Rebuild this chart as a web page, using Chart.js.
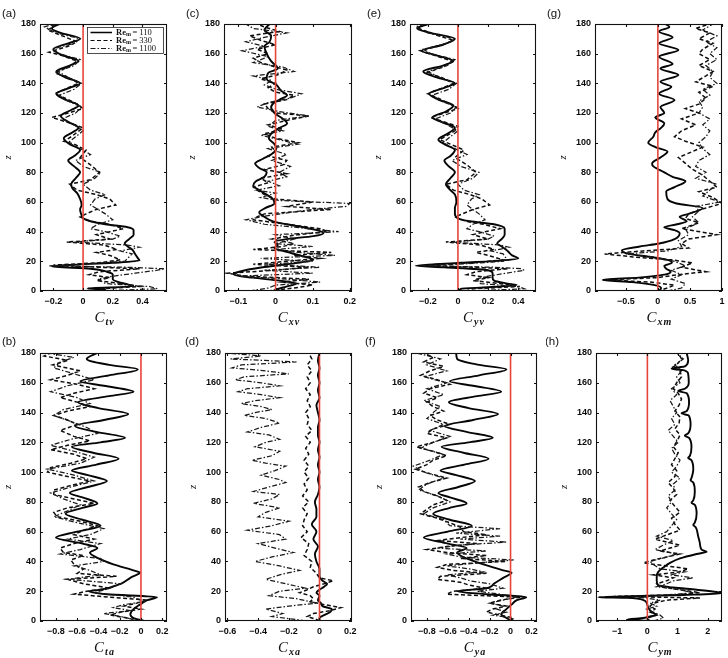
<!DOCTYPE html>
<html>
<head>
<meta charset="utf-8">
<script src="https://cdn.jsdelivr.net/npm/chart.js@4.4.1/dist/chart.umd.min.js"></script>
<style>
  body { margin: 0; background: #fff; width: 728px; height: 658px; position: relative; overflow: hidden; }
  canvas { position: absolute; }
</style>
</head>
<body>
<script>
// z axis ticks, shared by every panel
const zTicks = [0, 20, 40, 60, 80, 100, 120, 140, 160, 180];

// x tick labels per panel
const ticksTv = [-0.2, 0, 0.2, 0.4];
const ticksXv = [-0.1, 0, 0.1, 0.2];
const ticksYv = [-0.2, 0, 0.2, 0.4];
const ticksXm = [-0.5, 0, 0.5, 1];
const ticksTa = [-0.8, -0.6, -0.4, -0.2, 0, 0.2];
const ticksXa = [-0.6, -0.4, -0.2, 0, 0.2];
const ticksYa = [-0.8, -0.6, -0.4, -0.2, 0, 0.2];
const ticksYm = [-1, 0, 1, 2];

// series: [z, value] pairs, Re_m = 110 / 330 / 1100
const ctv110 = [[0,0.0],[1,0.15],[1.8,0.03],[3,0.33],[4.5,0.3],[6,0.24],[8,0.2],[11,0.2],[13,0.16],[15,0.05],[16.5,-0.21],[17.5,-0.1],[19,0.2],[20.5,0.38],[22,0.37],[25,0.35],[28,0.33],[30,0.3],[32,0.28],[35,0.31],[38,0.34],[41,0.34],[43,0.3],[45,0.15],[47,0.05],[49,0.0],[51,-0.01],[55,-0.02],[58,-0.01],[62,-0.02],[66,-0.04],[69,-0.07],[72,-0.08],[76,-0.05],[80,-0.02],[84,-0.06],[88,-0.1],[91,-0.06],[95,-0.02],[99,-0.09],[103,-0.13],[107,-0.07],[110,-0.03],[114,-0.1],[118,-0.15],[122,-0.08],[125,-0.03],[129,-0.12],[133,-0.18],[137,-0.09],[140,-0.02],[144,-0.12],[148,-0.18],[152,-0.09],[155,-0.03],[159,-0.14],[163,-0.2],[167,-0.1],[170,-0.02],[174,-0.15],[177,-0.21],[180,-0.16]];
const ctv330 = [[0,0.07],[1.5,0.12],[3,0.38],[5,0.27],[7,0.09],[9,0.18],[11,0.04],[13,0.11],[15,0.38],[16,0.11],[17.5,-0.2],[19,0.11],[21,0.25],[24,0.18],[26,0.09],[28,0.23],[31,0.14],[33,-0.11],[35,0.18],[38,0.09],[40,0.18],[42,0.27],[45,0.18],[47,0.05],[50,-0.02],[52,0.02],[55,0.09],[58,0.22],[62,0.18],[65,0.09],[68,-0.04],[72,-0.09],[75,0.05],[80,0.11],[85,0.05],[90,-0.02],[95,0.02],[99,-0.06],[101,-0.13],[104,-0.08],[107,-0.04],[110,0.0],[113,-0.08],[117,-0.21],[120,-0.1],[123,0.0],[126,-0.04],[130,-0.12],[133,-0.19],[137,-0.1],[140,-0.03],[144,-0.1],[147,-0.19],[151,-0.1],[155,-0.04],[159,-0.15],[161,-0.23],[165,-0.1],[168,-0.04],[172,-0.14],[176,-0.24],[178,-0.2],[180,-0.22]];
const ctv1100 = [[0,0.1],[1.5,0.5],[3,0.45],[5,0.15],[8,0.1],[10,0.2],[12,0.35],[14,0.5],[15,0.55],[16,0.3],[17,-0.23],[18,0.0],[20,0.28],[22,0.3],[25,0.33],[27,0.25],[29.5,0.38],[31,0.3],[33,-0.06],[35,0.2],[37,0.25],[40,0.15],[42,0.05],[45,0.1],[48,0.2],[52,0.15],[55,0.1],[58,0.05],[62,0.08],[65,0.15],[68,0.05],[72,0.0],[76,0.08],[80,0.12],[84,0.0],[88,-0.05],[92,0.05],[95,0.0],[100,-0.1],[104,-0.05],[108,0.0],[112,-0.06],[116,-0.14],[120,-0.05],[124,-0.01],[128,-0.1],[132,-0.16],[136,-0.06],[140,-0.01],[144,-0.1],[148,-0.17],[152,-0.06],[156,-0.02],[160,-0.16],[163,-0.21],[167,-0.06],[170,-0.02],[174,-0.18],[178,-0.26],[180,-0.2]];

const cxv110 = [[0,-0.007],[1,0.002],[3,0.029],[5,0.056],[7,0.011],[9,-0.062],[11,-0.112],[13,-0.098],[16,-0.035],[18,0.029],[21,0.102],[24,0.065],[27,0.02],[29,-0.003],[31,0.006],[33,-0.003],[35,0.029],[37,0.102],[39,0.129],[41,0.111],[43,0.075],[45,0.029],[47,-0.007],[50,-0.03],[53,-0.044],[56,-0.027],[59,-0.003],[62,-0.007],[65,-0.024],[68,-0.044],[71,-0.06],[74,-0.053],[77,-0.03],[80,-0.024],[83,-0.044],[86,-0.055],[89,-0.035],[92,-0.012],[96,0.002],[99,-0.003],[103,-0.018],[106,-0.012],[110,0.011],[113,0.031],[116,0.02],[120,-0.003],[124,-0.012],[127,-0.003],[129,0.011],[132,0.031],[135,0.015],[139,0.002],[143,-0.024],[147,-0.02],[150,0.006],[155,-0.012],[160,-0.024],[165,-0.03],[168,-0.016],[172,-0.012],[176,-0.03],[180,-0.016]];
const cxv330 = [[0,-0.02],[2,0.05],[4,0.1],[6,0.02],[8,0.09],[10,-0.08],[12,-0.13],[14,0.0],[16,0.09],[18,-0.06],[20,0.03],[22,0.12],[24,0.05],[26,0.15],[28,-0.06],[30,0.02],[32,0.05],[35,-0.01],[38,0.06],[40,0.14],[42,0.12],[45,0.03],[48,-0.06],[50,-0.05],[52,-0.03],[55,0.15],[57,0.03],[60,0.1],[62,0.0],[65,-0.03],[68,-0.05],[70,-0.06],[73,-0.02],[76,-0.04],[79,0.03],[82,-0.03],[85,0.02],[88,0.03],[91,-0.02],[94,0.0],[97,-0.01],[100,0.06],[103,0.0],[106,-0.03],[109,0.02],[112,-0.02],[115,0.03],[118,0.09],[120,0.0],[123,-0.02],[126,-0.03],[129,0.03],[132,0.05],[134,0.0],[137,-0.02],[140,0.0],[143,-0.04],[146,0.01],[149,0.03],[151,0.0],[154,-0.04],[157,-0.06],[160,-0.02],[163,-0.05],[166,0.0],[169,-0.04],[172,-0.07],[175,0.01],[178,-0.03],[180,-0.05]];
const cxv1100 = [[0,-0.07],[2,-0.02],[4,0.0],[6,0.12],[8,0.03],[10,-0.1],[12,0.1],[14,-0.03],[16,0.12],[18,-0.02],[20,0.1],[22,-0.04],[24,0.16],[26,0.06],[28,0.0],[30,0.1],[32,0.0],[35,0.05],[38,0.0],[40,0.17],[43,0.05],[45,-0.03],[48,-0.08],[50,-0.04],[53,0.04],[55,0.1],[57,0.19],[59,0.2],[61,0.01],[63,-0.04],[66,0.0],[68,-0.05],[71,0.01],[74,-0.02],[77,0.03],[80,0.01],[84,0.04],[88,-0.01],[92,0.03],[96,-0.02],[99,0.06],[102,0.01],[105,-0.04],[108,0.02],[111,-0.02],[115,0.0],[118,0.09],[121,0.01],[124,-0.05],[127,-0.02],[130,0.04],[133,0.07],[136,0.0],[139,-0.03],[142,-0.01],[145,-0.06],[148,0.05],[151,0.02],[154,-0.06],[158,-0.02],[162,-0.09],[165,-0.03],[168,-0.08],[171,-0.03],[174,0.03],[177,-0.06],[180,-0.08]];

const cyv110 = [[0,0.01],[1.5,0.02],[2.5,0.2],[4,0.39],[5,0.33],[7,0.24],[9,0.23],[12,0.23],[14,0.2],[16,-0.09],[17,-0.28],[18,-0.15],[19,0.02],[20.5,0.29],[22,0.4],[24,0.36],[27,0.33],[30,0.29],[32,0.26],[35,0.29],[38,0.31],[42,0.31],[45,0.24],[47,0.08],[49,0.0],[52,-0.02],[56,-0.02],[60,-0.01],[65,-0.02],[69,-0.06],[72,-0.08],[76,-0.05],[80,-0.02],[84,-0.06],[88,-0.09],[91,-0.05],[95,-0.02],[99,-0.09],[102,-0.13],[106,-0.07],[110,-0.02],[114,-0.11],[117,-0.17],[121,-0.08],[125,-0.03],[129,-0.13],[133,-0.19],[137,-0.09],[140,-0.02],[144,-0.14],[148,-0.23],[152,-0.1],[155,-0.03],[159,-0.15],[162,-0.24],[166,-0.1],[170,-0.02],[174,-0.18],[177,-0.27],[180,-0.2]];
const cyv330 = [[0,0.05],[1.5,0.1],[3,0.41],[5,0.28],[7,0.1],[9,0.2],[11,0.06],[13,0.12],[15,0.33],[16,0.1],[17.5,-0.22],[19,0.1],[21,0.3],[24,0.2],[26,0.12],[28,0.24],[31,0.15],[33,-0.08],[35,0.2],[38,0.1],[40,0.18],[42,0.28],[45,0.17],[47,0.05],[50,-0.02],[52,0.03],[55,0.1],[58,0.21],[62,0.16],[65,0.08],[68,-0.03],[72,-0.08],[75,0.06],[80,0.12],[85,0.06],[90,-0.02],[95,0.04],[99,-0.05],[102,-0.12],[105,-0.07],[108,-0.02],[111,0.0],[114,-0.09],[117,-0.18],[120,-0.09],[123,0.0],[126,-0.05],[130,-0.13],[133,-0.2],[137,-0.1],[140,-0.03],[144,-0.11],[147,-0.21],[151,-0.1],[155,-0.04],[159,-0.16],[162,-0.25],[166,-0.1],[169,-0.03],[173,-0.16],[177,-0.26],[180,-0.22]];
const cyv1100 = [[0,0.08],[1.5,0.44],[3,0.4],[5,0.15],[8,0.12],[10,0.2],[12,0.32],[14,0.44],[15,0.42],[16,0.25],[17,-0.24],[18,0.0],[20,0.3],[22,0.32],[25,0.3],[27,0.22],[29.5,0.34],[31,0.28],[33,-0.04],[35,0.2],[37,0.24],[40,0.14],[42,0.06],[45,0.1],[48,0.18],[52,0.14],[55,0.1],[58,0.06],[62,0.09],[65,0.14],[68,0.04],[72,0.0],[76,0.1],[80,0.14],[84,0.02],[88,-0.04],[92,0.06],[95,0.0],[100,-0.1],[104,-0.05],[108,0.0],[112,-0.07],[116,-0.15],[120,-0.05],[124,-0.01],[128,-0.11],[132,-0.17],[136,-0.06],[140,-0.01],[144,-0.12],[148,-0.2],[152,-0.07],[156,-0.02],[160,-0.18],[163,-0.23],[167,-0.07],[170,-0.02],[174,-0.2],[178,-0.28],[180,-0.22]];

const cxm110 = [[0,0.02],[2,0.05],[4,-0.05],[6,-0.4],[7.5,-0.86],[9,-0.3],[11,0.1],[13,0.2],[15,0.13],[17,0.1],[19,0.22],[21,0.15],[23,-0.12],[25,-0.45],[27.5,-0.56],[30,-0.28],[32,0.02],[35,0.26],[39,0.34],[41,0.26],[43,0.1],[45,0.3],[47,0.45],[50,0.34],[52,0.48],[56,0.7],[59,0.29],[62,0.15],[67,0.13],[70,0.26],[74,0.43],[77,0.23],[80,0.1],[84,-0.07],[86,-0.09],[90,0.04],[94,0.15],[97,-0.04],[100,-0.15],[104,-0.07],[107,-0.04],[110,0.05],[113,0.1],[117,-0.04],[120,0.1],[124,0.04],[128.7,0.26],[133,0.02],[137.7,0.21],[141,0.04],[145.6,0.32],[150,0.04],[153,0.23],[158,0.02],[162.5,0.32],[167,0.02],[171,0.23],[175,0.02],[178,0.18],[180,0.12]];
const cxm330 = [[0,-0.01],[2,0.15],[4,0.26],[6,-0.12],[7.5,-0.83],[9,-0.01],[11,0.32],[13,0.75],[16,0.37],[19,0.54],[21,0.21],[23,-0.39],[25,-0.83],[27,-0.23],[29,0.48],[32,0.37],[35,0.48],[38,0.92],[42,0.37],[46,0.64],[49,0.43],[52,0.48],[56,0.75],[59,1.0],[63,0.86],[67,0.64],[70,0.92],[74,0.81],[78,0.7],[82,0.54],[86,0.43],[90,0.32],[94,0.54],[97,0.7],[101,0.43],[104,0.26],[108,0.37],[112,0.59],[116,0.37],[120,0.64],[123,0.43],[126,0.64],[130,0.75],[134,0.64],[138,0.86],[141,0.59],[145,0.75],[148,0.86],[152,0.64],[156,0.81],[160,0.64],[163,0.7],[167,0.86],[170,0.64],[174,0.81],[177,0.59],[180,0.81]];
const cxm1100 = [[0,0.15],[2,0.37],[5,0.43],[8,0.21],[11,0.37],[14,0.21],[17,0.43],[20,0.26],[23,-0.07],[25,-0.5],[27,0.15],[30,0.37],[34,0.32],[38,0.48],[42,0.43],[46,0.64],[50,0.54],[54,0.64],[57,0.59],[60,0.97],[64,0.7],[68,0.81],[72,0.92],[76,0.59],[80,0.75],[84,0.59],[88,0.64],[92,0.81],[96,0.7],[100,0.64],[104,0.75],[108,0.81],[112,0.7],[116,0.81],[120,0.64],[124,0.7],[128,0.64],[132,0.81],[136,0.7],[140,0.92],[144,0.81],[148,0.86],[152,0.75],[156,0.92],[160,0.81],[164,0.92],[168,0.75],[172,0.92],[176,0.7],[180,0.86]];

const cta110 = [[0,0.03],[2,-0.07],[4.5,-0.1],[8,-0.07],[11,-0.01],[14,0.06],[16,0.15],[18,-0.32],[20,-0.49],[21,-0.38],[25,-0.19],[29,-0.1],[32.5,-0.01],[34,-0.07],[38,-0.26],[42,-0.4],[46,-0.48],[49,-0.41],[52,-0.55],[56,-0.8],[60,-0.6],[64,-0.38],[68,-0.55],[72,-0.71],[76,-0.55],[79,-0.41],[83,-0.55],[86,-0.67],[90,-0.5],[94,-0.32],[98,-0.5],[101,-0.65],[105,-0.42],[109,-0.21],[113,-0.45],[117,-0.65],[120,-0.38],[123,-0.15],[127,-0.42],[131,-0.62],[135,-0.35],[139,-0.12],[143,-0.4],[147,-0.59],[151,-0.3],[154,-0.07],[158,-0.35],[161,-0.57],[165,-0.3],[169,-0.03],[172,-0.3],[176,-0.51],[180,-0.41]];
const cta330 = [[0,-0.01],[2,-0.13],[4,-0.29],[6,-0.19],[8,0.0],[10,-0.16],[12,-0.04],[14,0.06],[16,-0.29],[18,-0.63],[20,-0.51],[22,-0.29],[25,-0.54],[28,-0.69],[30,-0.23],[32,-0.6],[35,-0.54],[38,-0.63],[41,-0.66],[44,-0.54],[46,-0.73],[49,-0.76],[52,-0.63],[55,-0.44],[58,-0.63],[61,-0.54],[64,-0.41],[67,-0.57],[70,-0.79],[73,-0.82],[76,-0.69],[79,-0.44],[82,-0.63],[85,-0.82],[88,-0.82],[91,-0.66],[94,-0.48],[97,-0.69],[100,-0.88],[103,-0.85],[106,-0.66],[109,-0.51],[112,-0.63],[115,-0.85],[118,-0.69],[121,-0.48],[124,-0.63],[128,-0.76],[132,-0.6],[135,-0.69],[138,-0.82],[141,-0.69],[144,-0.48],[147,-0.6],[150,-0.76],[153,-0.63],[156,-0.44],[159,-0.6],[162,-0.85],[165,-0.69],[168,-0.57],[172,-0.83],[175,-0.69],[178,-0.91],[180,-0.85]];
const cta1100 = [[0,-0.01],[1,-0.07],[3,-0.19],[5,-0.35],[7,-0.1],[9,-0.26],[11,-0.16],[13,0.03],[16,-0.07],[19,-0.44],[22,-0.29],[25,-0.19],[28,-0.69],[31,-0.38],[34,-0.48],[37,-0.63],[40,-0.35],[42,-0.38],[45,-0.76],[48,-0.57],[52,-0.38],[55,-0.69],[58,-0.48],[62,-0.35],[66,-0.6],[70,-0.82],[74,-0.69],[78,-0.57],[82,-0.73],[86,-0.85],[90,-0.66],[94,-0.44],[98,-0.63],[102,-0.88],[106,-0.57],[110,-0.44],[114,-0.63],[118,-0.85],[122,-0.66],[126,-0.41],[130,-0.51],[134,-0.66],[138,-0.82],[142,-0.73],[146,-0.48],[150,-0.6],[154,-0.85],[158,-0.69],[162,-0.44],[166,-0.63],[170,-0.82],[174,-0.76],[177,-0.63],[180,-0.88]];

const cxa110 = [[0,0.0],[2,0.0],[4,0.03],[6,0.07],[8,0.08],[10,0.02],[12,0.01],[14,-0.01],[17,0.0],[19,-0.02],[21,0.0],[23,0.03],[25,0.05],[27,0.02],[30,0.0],[35,0.0],[40,-0.02],[45,-0.03],[50,-0.01],[55,-0.04],[60,-0.02],[65,-0.05],[70,-0.02],[75,-0.02],[80,-0.03],[85,-0.01],[90,0.0],[95,-0.01],[100,0.0],[105,-0.01],[110,0.0],[115,-0.01],[120,0.0],[125,-0.01],[130,-0.01],[135,0.0],[140,-0.01],[145,-0.02],[150,0.0],[155,-0.01],[160,0.0],[165,-0.01],[170,0.0],[175,-0.01],[180,0.0]];
const cxa330 = [[0,0.0],[1,-0.02],[3,-0.08],[5,-0.04],[7,0.07],[9,0.14],[11,0.03],[13,-0.06],[15,-0.04],[17,-0.06],[19,-0.13],[21,-0.08],[23,-0.04],[25,0.03],[27,0.09],[29,0.0],[32,-0.02],[36,-0.06],[40,-0.05],[44,-0.1],[48,-0.08],[52,-0.07],[56,-0.12],[60,-0.08],[64,-0.11],[68,-0.1],[72,-0.08],[76,-0.11],[80,-0.07],[84,-0.11],[88,-0.08],[92,-0.1],[96,-0.07],[100,-0.1],[104,-0.07],[108,-0.1],[112,-0.07],[116,-0.09],[120,-0.06],[124,-0.09],[128,-0.05],[132,-0.08],[136,-0.07],[140,-0.09],[144,-0.06],[148,-0.08],[152,-0.06],[156,-0.09],[160,-0.06],[164,-0.08],[168,-0.05],[172,-0.08],[176,-0.05],[180,-0.07]];
const cxa1100 = [[0,-0.09],[1,-0.15],[3,-0.31],[5,-0.24],[8,-0.35],[10,-0.2],[12,-0.02],[15,-0.15],[17,-0.33],[20,-0.26],[22,-0.09],[25,-0.22],[28,-0.35],[31,-0.26],[34,-0.13],[37,-0.26],[40,-0.42],[43,-0.31],[46,-0.17],[49,-0.29],[52,-0.4],[55,-0.22],[58,-0.26],[61,-0.47],[64,-0.31],[67,-0.2],[70,-0.4],[73,-0.35],[76,-0.26],[79,-0.43],[82,-0.31],[85,-0.26],[87,-0.43],[90,-0.33],[93,-0.22],[95,-0.26],[98,-0.38],[101,-0.29],[104,-0.22],[106,-0.35],[108,-0.44],[111,-0.31],[114,-0.26],[117,-0.42],[120,-0.35],[122,-0.26],[125,-0.33],[127,-0.47],[130,-0.38],[133,-0.26],[136,-0.35],[138,-0.49],[140,-0.42],[142,-0.31],[144,-0.38],[146,-0.51],[148,-0.42],[150,-0.26],[152,-0.38],[154,-0.53],[156,-0.47],[158,-0.26],[160,-0.38],[162,-0.55],[164,-0.49],[166,-0.2],[168,-0.35],[170,-0.57],[172,-0.51],[174,-0.15],[176,-0.58],[178,-0.38],[180,-0.6]];

const cya110 = [[0,0.01],[2,-0.04],[4.5,-0.09],[8,-0.04],[11,0.01],[14,0.06],[16,0.15],[18,-0.23],[20,-0.51],[22,-0.23],[25,-0.16],[29,-0.07],[32.5,0.01],[34,-0.07],[38,-0.26],[42,-0.42],[46,-0.51],[49,-0.42],[52,-0.6],[56,-0.83],[60,-0.6],[64,-0.37],[68,-0.58],[72,-0.74],[76,-0.58],[79,-0.42],[83,-0.58],[86,-0.69],[90,-0.5],[94,-0.34],[98,-0.52],[101,-0.67],[105,-0.44],[109,-0.21],[113,-0.45],[117,-0.66],[120,-0.4],[123,-0.17],[127,-0.42],[131,-0.63],[135,-0.36],[139,-0.12],[143,-0.4],[147,-0.59],[151,-0.32],[154,-0.09],[158,-0.36],[161,-0.58],[165,-0.3],[169,-0.04],[172,-0.3],[176,-0.51],[180,-0.52]];
const cya330 = [[0,0.0],[2,0.03],[4,-0.1],[6,-0.23],[8,-0.17],[10,-0.04],[12,-0.2],[14,-0.1],[16,0.09],[18,-0.61],[20,-0.55],[22,-0.23],[24,-0.39],[26,-0.48],[28,-0.7],[30,-0.67],[32,-0.23],[34,-0.55],[36,-0.7],[38,-0.61],[40,-0.04],[42,-0.48],[44,-0.23],[46,-0.61],[48,-0.8],[50,-0.61],[52,-0.32],[54,-0.7],[56,-0.48],[58,-0.23],[60,-0.45],[63,-0.48],[66,-0.58],[69,-0.7],[72,-0.86],[75,-0.8],[78,-0.74],[81,-0.61],[84,-0.7],[87,-0.83],[90,-0.88],[93,-0.77],[96,-0.61],[99,-0.77],[102,-0.91],[105,-0.8],[108,-0.74],[111,-0.61],[114,-0.74],[117,-0.9],[120,-0.74],[123,-0.61],[126,-0.8],[129,-0.74],[132,-0.58],[135,-0.7],[138,-0.77],[141,-0.64],[144,-0.74],[147,-0.8],[150,-0.7],[153,-0.83],[156,-0.77],[159,-0.58],[162,-0.7],[165,-0.86],[168,-0.77],[171,-0.64],[174,-0.83],[177,-0.74],[180,-0.83]];
const cya1100 = [[0,0.03],[2,0.0],[4,-0.17],[6,-0.04],[8,-0.13],[10,-0.07],[12,-0.2],[14,-0.07],[16,0.06],[18,-0.1],[20,-0.32],[22,-0.07],[25,-0.2],[27,-0.39],[29,-0.48],[31,-0.61],[33,-0.26],[35,-0.39],[37,-0.61],[39,-0.32],[41,0.03],[43,-0.48],[45,-0.61],[47,-0.23],[49,-0.7],[51,-0.48],[53,-0.04],[55,-0.48],[57,-0.1],[59,-0.52],[62,-0.1],[64,-0.58],[68,-0.64],[72,-0.83],[76,-0.74],[80,-0.58],[84,-0.7],[88,-0.88],[92,-0.8],[96,-0.64],[100,-0.83],[104,-0.93],[108,-0.77],[112,-0.64],[116,-0.86],[120,-0.74],[124,-0.58],[128,-0.77],[132,-0.64],[136,-0.8],[140,-0.74],[144,-0.67],[148,-0.83],[152,-0.64],[156,-0.8],[160,-0.61],[164,-0.83],[168,-0.61],[172,-0.8],[176,-0.67],[180,-0.9]];

const cym110 = [[0,0.09],[1,-0.68],[2,-0.13],[3,0.09],[4,0.31],[6,0.14],[9,0.03],[12,-0.02],[14,-0.13],[15.5,-0.68],[16,-1.62],[16.5,-0.79],[17.5,1.19],[18.5,2.45],[19.5,2.29],[21,1.63],[22.5,0.86],[24,0.36],[27,0.31],[30,0.31],[33,0.36],[36,0.53],[39,0.75],[42,1.08],[45,1.63],[46.5,1.96],[48,1.79],[52,1.74],[57,1.68],[63,1.6],[64.5,1.52],[66,1.57],[72,1.63],[78,1.57],[79.5,1.46],[81,1.52],[87,1.57],[93,1.52],[94.5,1.43],[96,1.46],[102,1.52],[108,1.46],[109.5,1.35],[111,1.41],[117,1.46],[123,1.38],[124.5,1.24],[126,1.35],[132,1.43],[138,1.37],[139.5,1.13],[141,1.3],[147,1.38],[153,1.3],[154.5,1.02],[156,1.24],[160,1.37],[166,1.35],[168.5,1.19],[169.5,0.8],[171,1.24],[175,1.35],[180,1.3]];
const cym330 = [[0,0.09],[2,-0.02],[4,0.31],[6,0.09],[8,0.25],[10,0.09],[12,0.2],[14,0.64],[15.5,1.74],[16.5,-1.12],[17.5,0.86],[19,1.74],[21,1.08],[23,0.42],[25,0.31],[27,0.64],[29,0.86],[31,0.2],[33,1.08],[35,1.35],[37,0.64],[39,-0.13],[41,0.2],[43,0.64],[45,1.08],[47,0.42],[49,0.75],[51,1.08],[53,0.64],[55,0.25],[57,0.53],[61,1.08],[65,0.91],[69,0.8],[73,1.08],[77,0.91],[81,0.75],[85,0.97],[89,0.86],[93,0.69],[97,0.91],[101,0.97],[105,0.8],[109,0.91],[113,1.02],[117,0.86],[121,0.99],[125,1.08],[129,0.91],[133,1.05],[137,1.08],[141,0.91],[145,1.05],[149,1.13],[153,1.02],[156,0.86],[160,0.97],[164,1.13],[168,1.08],[170,0.8],[172,0.97],[176,1.13],[180,1.02]];
const cym1100 = [[0,0.2],[2,0.53],[4,0.42],[6,0.2],[8,-0.02],[10,0.31],[12,0.09],[14,0.42],[16,-0.24],[17.5,0.64],[19,1.52],[21,1.08],[23,0.31],[25,0.64],[27,0.86],[29,1.52],[31,0.75],[33,1.24],[35,0.42],[38,0.2],[40,0.09],[43,0.64],[45,0.97],[48,0.25],[51,0.53],[54,0.86],[57,0.31],[60,0.64],[64,0.8],[68,0.97],[72,0.8],[76,0.64],[80,0.8],[84,0.69],[88,0.91],[92,0.86],[96,1.08],[100,0.8],[104,0.97],[108,1.08],[112,0.91],[116,0.8],[120,1.02],[124,0.86],[128,0.69],[132,0.91],[136,0.8],[140,0.97],[144,0.86],[148,0.75],[152,0.97],[156,0.8],[160,1.08],[164,0.97],[168,1.13],[172,0.91],[176,1.19],[180,0.97]];

const legendLabels = ['110', '330', '1100'];

// panel layout: plot box in page pixels [left, top, right, bottom], tag position
const panels = [
  { tag: '(a)', sub: 'tv', min: -0.29, max: 0.565, ticks: ticksTv, series: [ctv110, ctv330, ctv1100], box: [40, 24, 167, 291], tagAt: [2, 14], legend: true },
  { tag: '(c)', sub: 'xv', min: -0.139, max: 0.206, ticks: ticksXv, series: [cxv110, cxv330, cxv1100], box: [224, 24, 352, 291], tagAt: [186, 14] },
  { tag: '(e)', sub: 'yv', min: -0.318, max: 0.518, ticks: ticksYv, series: [cyv110, cyv330, cyv1100], box: [410, 24, 536, 291], tagAt: [367, 14] },
  { tag: '(g)', sub: 'xm', min: -0.98, max: 1.0, ticks: ticksXm, series: [cxm110, cxm330, cxm1100], box: [595, 24, 722, 291], tagAt: [547, 14] },
  { tag: '(b)', sub: 'ta', min: -0.95, max: 0.245, ticks: ticksTa, series: [cta110, cta330, cta1100], box: [40, 353, 167, 621], tagAt: [2, 342] },
  { tag: '(d)', sub: 'xa', min: -0.616, max: 0.212, ticks: ticksXa, series: [cxa110, cxa330, cxa1100], box: [225, 353, 352, 621], tagAt: [185, 342] },
  { tag: '(f)', sub: 'ya', min: -0.952, max: 0.253, ticks: ticksYa, series: [cya110, cya330, cya1100], box: [411, 353, 537, 621], tagAt: [365, 342] },
  { tag: '(h)', sub: 'ym', min: -1.7, max: 2.47, ticks: ticksYm, series: [cym110, cym330, cym1100], box: [596, 353, 722, 621], tagAt: [545, 342] },
];

const lineStyles = [
  { color: '#050505', width: 1.9, dash: [] },
  { color: '#0d0d0d', width: 1.5, dash: [4, 2.5] },
  { color: '#1a1a1a', width: 1.25, dash: [5, 2, 1.5, 2] },
];

const tickFont = { family: '"Liberation Sans", Arial, sans-serif', size: 9, weight: 'bold' };
const serif = '"Liberation Serif", "DejaVu Serif", serif';
const fmt = v => (v < 0 ? '\u2212' + String(-v) : String(v));
const AXW = 50; // room left of each plot box for z labels and tag

// box, inward ticks, titles, tag and legend
const decor = {
  id: 'decor',
  afterDatasetsDraw(chart, args, opts) {
    const { ctx, chartArea: a, scales: { x, y } } = chart;
    const p = opts.panel;
    ctx.save();
    ctx.strokeStyle = '#111';
    ctx.lineWidth = 1.1;
    ctx.strokeRect(a.left + 0.5, a.top + 0.5, a.width - 1, a.height - 1);
    ctx.beginPath();
    p.ticks.forEach(v => {
      const px = Math.round(x.getPixelForValue(v)) + 0.5;
      ctx.moveTo(px, a.bottom); ctx.lineTo(px, a.bottom - 3);
      ctx.moveTo(px, a.top); ctx.lineTo(px, a.top + 3);
    });
    zTicks.forEach(v => {
      const py = Math.round(y.getPixelForValue(v)) + 0.5;
      ctx.moveTo(a.left, py); ctx.lineTo(a.left + 3, py);
      ctx.moveTo(a.right, py); ctx.lineTo(a.right - 3, py);
    });
    ctx.stroke();

    // x title C with subscript
    ctx.fillStyle = '#111';
    ctx.textAlign = 'left';
    ctx.textBaseline = 'alphabetic';
    ctx.font = 'italic 15px ' + serif;
    const wC = ctx.measureText('C').width;
    ctx.font = 'italic bold 10px ' + serif;
    ctx.letterSpacing = '1px';
    const wS = ctx.measureText(p.sub).width;
    const sx = (a.left + a.right) / 2 + 1 - (wC + 1 + wS) / 2;
    const base = a.bottom + 31;
    ctx.fillText(p.sub, sx + wC + 1, base + 3);
    ctx.letterSpacing = '0px';
    ctx.font = 'italic 15px ' + serif;
    ctx.fillText('C', sx, base);

    // y title
    ctx.save();
    ctx.translate(a.left - 32, (a.top + a.bottom) / 2);
    ctx.rotate(-Math.PI / 2);
    ctx.font = 'italic 10.5px ' + serif;
    ctx.textAlign = 'center';
    ctx.textBaseline = 'middle';
    ctx.fillText('z', 0, 0);
    ctx.restore();

    // panel tag
    ctx.font = '11.5px "Liberation Sans", Arial, sans-serif';
    ctx.textAlign = 'left';
    ctx.textBaseline = 'middle';
    ctx.fillText(p.tag, p.tagAt[0] - opts.cl, p.tagAt[1] - opts.ct);

    if (p.legend) {
      const lx = a.right - 80, ly = a.top + 3, lw = 76, lh = 26;
      ctx.fillStyle = '#fff';
      ctx.fillRect(lx, ly, lw, lh);
      ctx.strokeStyle = '#222';
      ctx.lineWidth = 0.8;
      ctx.strokeRect(lx + 0.5, ly + 0.5, lw, lh);
      lineStyles.forEach((s, i) => {
        const ry = ly + 5.5 + i * 8;
        ctx.strokeStyle = s.color;
        ctx.lineWidth = s.width * 0.8;
        ctx.setLineDash(s.dash);
        ctx.beginPath();
        ctx.moveTo(lx + 3.5, ry); ctx.lineTo(lx + 25, ry);
        ctx.stroke();
        ctx.setLineDash([]);
        ctx.fillStyle = '#111';
        ctx.textBaseline = 'middle';
        let tx = lx + 29;
        ctx.font = 'bold 8.5px ' + serif;
        ctx.fillText('Re', tx, ry);
        tx += ctx.measureText('Re').width;
        ctx.font = 'bold 6px ' + serif;
        ctx.fillText('m', tx, ry + 2);
        tx += ctx.measureText('m').width + 1.5;
        ctx.font = '8.5px ' + serif;
        ctx.fillText('= ' + legendLabels[i], tx, ry);
      });
    }
    ctx.restore();
  }
};

const toPts = s => s.map(([z, v]) => ({ x: v, y: z }));

panels.forEach(p => {
  const [L, T, R, B] = p.box;
  const cl = L - AXW, ct = T - 24;
  const W = R - L + AXW + 12, H = B - T + 64;
  const cv = document.createElement('canvas');
  cv.width = W;
  cv.height = H;
  cv.style.left = cl + 'px';
  cv.style.top = ct + 'px';
  cv.style.width = W + 'px';
  cv.style.height = H + 'px';
  document.body.appendChild(cv);

  new Chart(cv, {
    type: 'line',
    data: {
      datasets: [
        { data: [{ x: 0, y: 0 }, { x: 0, y: 180 }], borderColor: '#e6453a', borderWidth: 1.6 },
        { data: toPts(p.series[2]), borderColor: lineStyles[2].color, borderWidth: lineStyles[2].width, borderDash: lineStyles[2].dash },
        { data: toPts(p.series[1]), borderColor: lineStyles[1].color, borderWidth: lineStyles[1].width, borderDash: lineStyles[1].dash },
        { data: toPts(p.series[0]), borderColor: lineStyles[0].color, borderWidth: lineStyles[0].width, cubicInterpolationMode: 'monotone' },
      ]
    },
    options: {
      responsive: false,
      animation: false,
      devicePixelRatio: 1,
      indexAxis: 'y',
      elements: { point: { radius: 0 }, line: { tension: 0 } },
      layout: { padding: { left: 0, top: 24, right: 12, bottom: 0 } },
      plugins: {
        legend: { display: false },
        tooltip: { enabled: false },
        decor: { panel: p, cl, ct }
      },
      scales: {
        x: {
          type: 'linear', position: 'bottom', min: p.min, max: p.max,
          grid: { display: false, drawTicks: false }, border: { display: false },
          afterBuildTicks: s => { s.ticks = p.ticks.map(v => ({ value: v })); },
          afterFit: s => { s.height = 40; },
          ticks: { autoSkip: false, maxRotation: 0, padding: 5, color: '#0a0a0a', font: tickFont, callback: v => fmt(v) }
        },
        y: {
          type: 'linear', position: 'left', min: 0, max: 180,
          grid: { display: false, drawTicks: false }, border: { display: false },
          afterBuildTicks: s => { s.ticks = zTicks.map(v => ({ value: v })); },
          afterFit: s => { s.width = AXW; },
          ticks: { autoSkip: false, padding: 4, color: '#0a0a0a', font: tickFont, callback: v => fmt(v) }
        }
      }
    },
    plugins: [decor]
  });
});
</script>
</body>
</html>
